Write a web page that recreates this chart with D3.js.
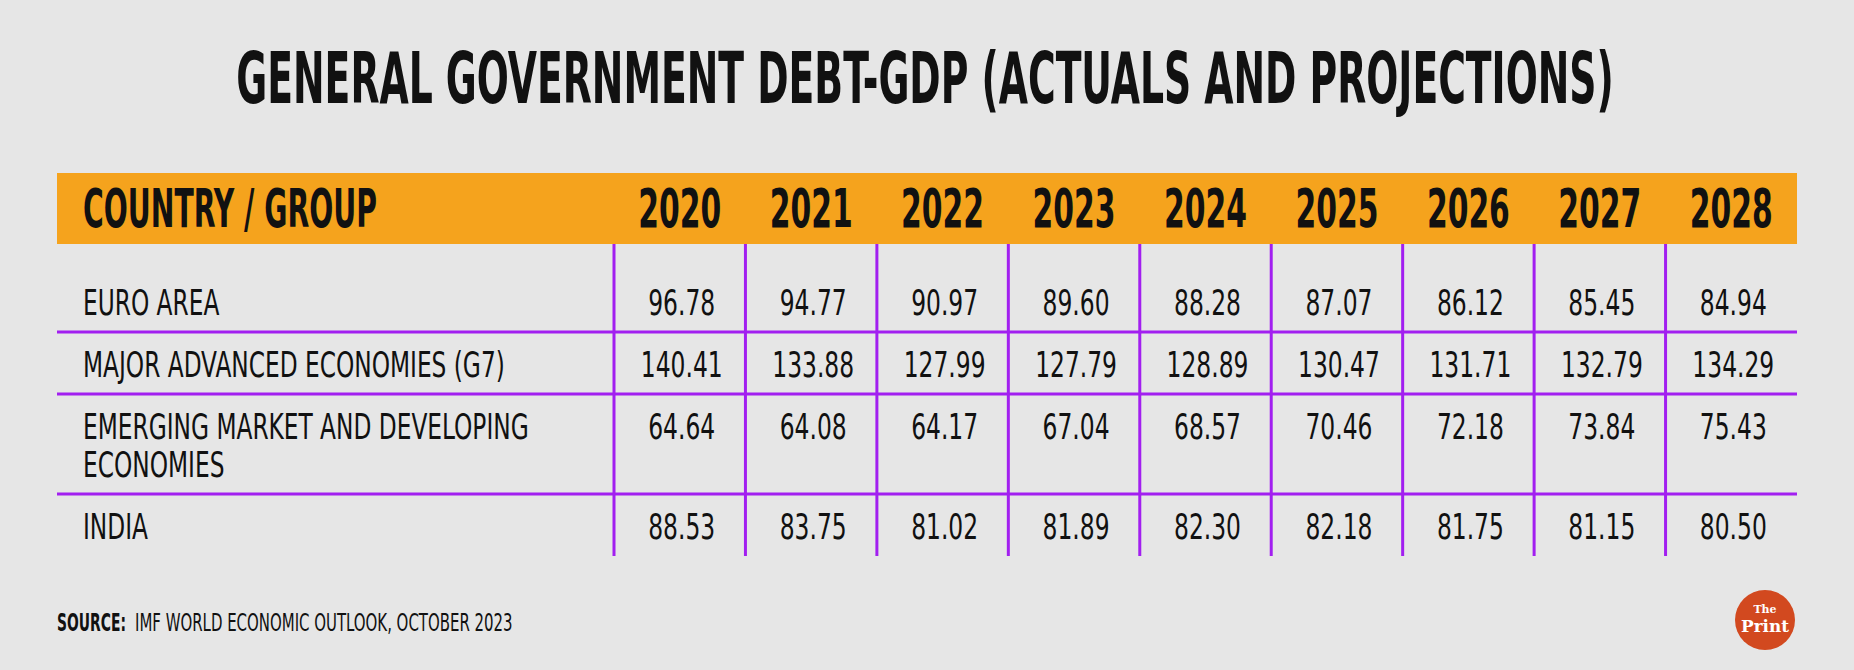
<!DOCTYPE html>
<html>
<head>
<meta charset="utf-8">
<script src="https://cdn.jsdelivr.net/npm/d3@7/dist/d3.min.js"></script>
<style>
  html, body { margin: 0; padding: 0; background: #e6e6e6; }
  svg { display: block; }
  text { font-family: "Liberation Sans Narrow", "DejaVu Sans Condensed", "Roboto", sans-serif; fill: #111; }
</style>
</head>
<body>
<svg id="chart" width="1854" height="670"></svg>
<script>
// ---- data ----
const titleText = "GENERAL GOVERNMENT DEBT-GDP (ACTUALS AND PROJECTIONS)";
const headerLabel = "COUNTRY / GROUP";
const years = ["2020", "2021", "2022", "2023", "2024", "2025", "2026", "2027", "2028"];
const groups = ["EURO AREA", "MAJOR ADVANCED ECONOMIES (G7)", "EMERGING MARKET AND DEVELOPING ECONOMIES", "INDIA"];
const groupLines = [["EURO AREA"], ["MAJOR ADVANCED ECONOMIES (G7)"], ["EMERGING MARKET AND DEVELOPING", "ECONOMIES"], ["INDIA"]];
const euroArea      = [96.78, 94.77, 90.97, 89.60, 88.28, 87.07, 86.12, 85.45, 84.94];
const majorAdvanced = [140.41, 133.88, 127.99, 127.79, 128.89, 130.47, 131.71, 132.79, 134.29];
const emerging      = [64.64, 64.08, 64.17, 67.04, 68.57, 70.46, 72.18, 73.84, 75.43];
const india         = [88.53, 83.75, 81.02, 81.89, 82.30, 82.18, 81.75, 81.15, 80.50];
const sourceLabel = "SOURCE:";
const sourceText = "IMF WORLD ECONOMIC OUTLOOK, OCTOBER 2023";

const series = [euroArea, majorAdvanced, emerging, india];
const rows = groups.map((g, i) => ({ name: g, lines: groupLines[i], values: series[i] }));

// ---- layout ----
const svg = d3.select("#chart");
const W = 1854, H = 670;
const BG = "#e6e6e6", ORANGE = "#f5a31d", PURPLE = "#a21ff0";
svg.append("rect").attr("width", W).attr("height", H).attr("fill", BG);

const tableLeft = 57, tableRight = 1797, labelColRight = 614;
const headerTop = 173, headerBottom = 244;
const lineStep = 38;

const x = d3.scaleBand().domain(years).range([labelColRight, tableRight]).padding(0);

let yCursor = headerBottom;
rows.forEach((r, i) => {
  const extra = i === 0 ? 26 : 0;
  r.top = yCursor;
  r.baseline = yCursor + extra + 45;
  r.height = extra + 62 + lineStep * (r.lines.length - 1);
  r.bottom = yCursor + r.height;
  yCursor = r.bottom;
});
const tableBottom = yCursor;

function measure(str, size, weight) {
  const t = svg.append("text").attr("font-size", size).attr("font-weight", weight).text(str);
  const w = t.node().getComputedTextLength();
  t.remove();
  return w;
}
function addText(g, str, xPos, yPos, size, weight, k, anchor, fill) {
  return g.append("text")
    .attr("transform", `translate(${xPos},${yPos}) scale(${k},1)`)
    .attr("font-size", size)
    .attr("font-weight", weight)
    .attr("text-anchor", anchor || "start")
    .style("fill", fill || "#111")
    .text(str);
}

// Title
const titleSize = 71;
const kTitle = 1378 / measure(titleText, titleSize, "bold");
addText(svg, titleText, W / 2 - 2, 103, titleSize, "bold", kTitle, "middle");

// Header bar
svg.append("rect").attr("x", tableLeft).attr("y", headerTop)
  .attr("width", tableRight - tableLeft).attr("height", headerBottom - headerTop)
  .attr("fill", ORANGE);

const headSize = 53;
const kHead = 294 / measure(headerLabel, headSize, "bold");
addText(svg, headerLabel, 83, 227, headSize, "bold", kHead, "start");
const kYear = 83 / measure("2020", headSize, "bold");
const gHead = svg.append("g");
years.forEach(yr => addText(gHead, yr, x(yr) + x.bandwidth() / 2, 227, headSize, "bold", kYear, "middle"));

// grid lines
const grid = svg.append("g").attr("stroke", PURPLE).attr("stroke-width", 3);
rows.slice(0, -1).forEach(r => {
  grid.append("line").attr("x1", tableLeft).attr("x2", tableRight)
    .attr("y1", r.bottom).attr("y2", r.bottom);
});
years.forEach(yr => {
  grid.append("line").attr("x1", x(yr)).attr("x2", x(yr))
    .attr("y1", headerBottom).attr("y2", tableBottom);
});

// row labels and values
const cellSize = 35;
const kLabel = 422 / measure("MAJOR ADVANCED ECONOMIES (G7)", cellSize, "normal");
const kVal = 67 / measure("96.78", cellSize, "normal");
const fmt = d3.format(".2f");
const gBody = svg.append("g");
rows.forEach(r => {
  r.lines.forEach((ln, j) => addText(gBody, ln, 83, r.baseline + j * lineStep, cellSize, "normal", kLabel, "start"));
  r.values.forEach((v, j) => {
    const yr = years[j];
    addText(gBody, fmt(v), x(yr) + x.bandwidth() / 2 + 2, r.baseline, cellSize, "normal", kVal, "middle");
  });
});

// source
const srcSize = 24;
const kSrcB = 69 / measure(sourceLabel, srcSize, "bold");
addText(svg, sourceLabel, 57, 631, srcSize, "bold", kSrcB, "start");
const kSrc = 378 / measure(sourceText, srcSize, "normal");
addText(svg, sourceText, 135, 631, srcSize, "normal", kSrc, "start");

// logo
const logo = svg.append("g").attr("transform", "translate(1765,620)");
logo.append("circle").attr("r", 30).attr("fill", "#d2491f");
const serif = "'DejaVu Serif', 'Liberation Serif', serif";
logo.append("text").attr("x", 0).attr("y", -7).attr("text-anchor", "middle")
  .attr("font-size", 11).attr("font-weight", "bold")
  .style("font-family", serif).style("fill", "#fff").text("The");
logo.append("text").attr("x", 0).attr("y", 12).attr("text-anchor", "middle")
  .attr("font-size", 16).attr("font-weight", "bold")
  .attr("textLength", 48).attr("lengthAdjust", "spacingAndGlyphs")
  .style("font-family", serif).style("fill", "#fff").text("Print");
</script>
</body>
</html>
